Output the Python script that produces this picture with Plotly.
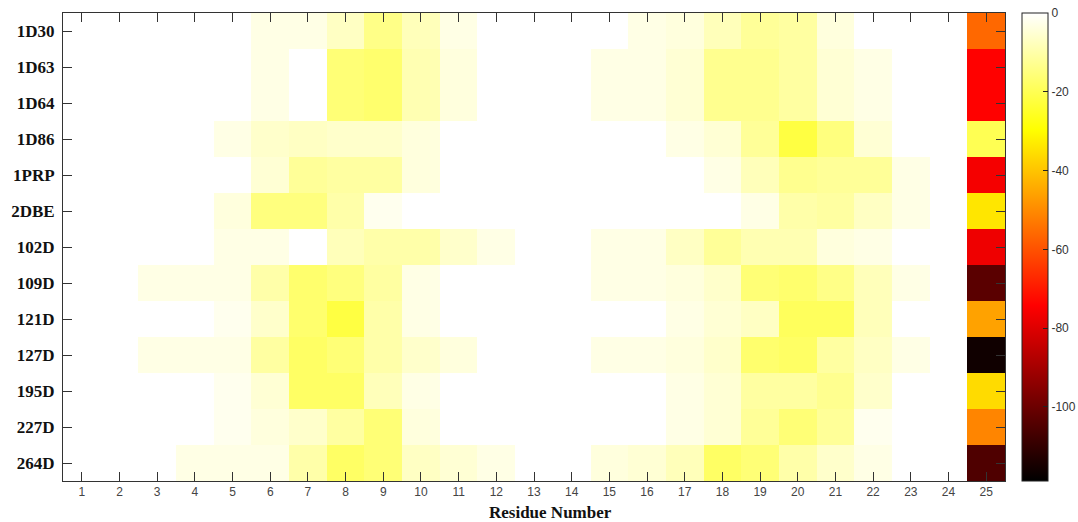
import plotly.graph_objects as go

structures = ["1D30", "1D63", "1D64", "1D86", "1PRP", "2DBE", "102D",
              "109D", "121D", "127D", "195D", "227D", "264D"]
residues = list(range(1, 26))

# energy values, rows = structures, columns = residues 1..25
r_1D30 = [0, 0, 0, 0, 0, -3, -3, -7, -14, -8, -3, 0, 0, 0, 0, -3, -4, -8, -12, -11, -4, 0, 0, 0, -56]
r_1D63 = [0, 0, 0, 0, 0, -3, 0, -16, -17, -9, -4, 0, 0, 0, -3, -3, -5, -13, -13, -11, -5, -3, 0, 0, -74]
r_1D64 = [0, 0, 0, 0, 0, -3, 0, -16, -17, -9, -4, 0, 0, 0, -3, -3, -5, -13, -13, -11, -5, -3, 0, 0, -74]
r_1D86 = [0, 0, 0, 0, -3, -6, -7, -6, -6, -4, 0, 0, 0, 0, 0, 0, -3, -5, -12, -22, -15, -5, 0, 0, -20]
r_1PRP = [0, 0, 0, 0, 0, -5, -12, -11, -11, -4, 0, 0, 0, 0, 0, 0, 0, -3, -8, -13, -12, -12, -3, 0, -76]
r_2DBE = [0, 0, 0, 0, -4, -15, -15, -10, -2, 0, 0, 0, 0, 0, 0, 0, 0, 0, -3, -10, -11, -7, -3, 0, -34]
r_102D = [0, 0, 0, 0, -3, -3, 0, -8, -10, -10, -6, -3, 0, 0, -3, -3, -7, -12, -9, -9, -4, -3, 0, 0, -77]
r_109D = [0, 0, -3, -3, -3, -10, -17, -15, -11, -3, 0, 0, 0, 0, -3, -3, -4, -6, -16, -17, -14, -8, -3, 0, -103]
r_121D = [0, 0, 0, 0, -2, -6, -17, -22, -10, -3, 0, 0, 0, 0, 0, 0, -3, -5, -7, -19, -19, -8, 0, 0, -46]
r_127D = [0, 0, -3, -3, -3, -11, -18, -16, -10, -6, -4, 0, 0, 0, -3, -3, -4, -6, -17, -18, -11, -7, -3, 0, -116]
r_195D = [0, 0, 0, 0, -2, -5, -18, -18, -8, -3, 0, 0, 0, 0, 0, 0, -3, -5, -11, -11, -13, -6, 0, 0, -36]
r_227D = [0, 0, 0, 0, -2, -4, -6, -11, -16, -4, 0, 0, 0, 0, 0, 0, -3, -5, -12, -16, -12, -2, 0, 0, -51]
r_264D = [0, 0, 0, -3, -3, -3, -10, -18, -16, -7, -5, -3, 0, 0, -4, -5, -8, -18, -16, -10, -6, -3, 0, 0, -105]

z = [r_1D30, r_1D63, r_1D64, r_1D86, r_1PRP, r_2DBE, r_102D,
     r_109D, r_121D, r_127D, r_195D, r_227D, r_264D]

cb_tickvals = [0, -20, -40, -60, -80, -100]
cb_ticktext = ["0", "-20", "-40", "-60", "-80", "-100"]

# MATLAB 'hot' colormap (black -> red -> yellow -> white)
hot = [[0.0, "rgb(0,0,0)"], [0.375, "rgb(255,0,0)"],
       [0.75, "rgb(255,255,0)"], [1.0, "rgb(255,255,255)"]]

fig = go.Figure(go.Heatmap(
    z=z, x=residues, y=structures,
    colorscale=hot, zmin=-118.8, zmax=0,
    colorbar=dict(
        x=(1022 - 63) / 942, xanchor="left", xref="paper",
        y=0.5, yanchor="middle", len=1.0, lenmode="fraction",
        thickness=26, thicknessmode="pixels",
        outlinecolor="#222", outlinewidth=1,
        ticks="inside", ticklen=5, tickcolor="#222",
        tickvals=cb_tickvals, ticktext=cb_ticktext,
        tickfont=dict(family="Liberation Sans, Arial", size=12, color="#333"),
        xpad=0, ypad=0,
    ),
))

fig.update_layout(
    width=1078, height=522,
    margin=dict(l=63, r=73, t=13, b=41, autoexpand=False),
    paper_bgcolor="white", plot_bgcolor="white",
    xaxis=dict(
        tickmode="array", tickvals=residues, ticktext=[str(r) for r in residues],
        ticks="inside", ticklen=9, tickcolor="#333", mirror="allticks",
        showline=True, linecolor="#333", linewidth=1, showgrid=False, zeroline=False,
        tickfont=dict(family="Liberation Sans, Arial", size=12, color="#444"),
        range=[0.5, 25.5],
    ),
    yaxis=dict(
        autorange="reversed",
        ticks="inside", ticklen=9, tickcolor="#333", mirror="allticks",
        showline=True, linecolor="#333", linewidth=1, showgrid=False, zeroline=False,
        tickfont=dict(family="Liberation Serif, Times New Roman", size=17, color="#111", weight="bold"),
        ticklabelstandoff=4,
    ),
    annotations=[dict(
        text="Residue Number", xref="paper", yref="paper",
        x=(550 - 63) / 942, y=-(512 - 481) / 468, xanchor="center", yanchor="middle",
        showarrow=False,
        font=dict(family="Liberation Serif, Times New Roman", size=17, color="#111", weight="bold"),
    )],
)

fig.write_html("out.html")
